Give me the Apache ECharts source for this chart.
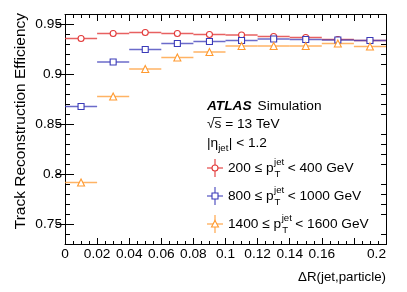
<!DOCTYPE html>
<html>
<head>
<meta charset="utf-8">
<script src="https://cdn.jsdelivr.net/npm/echarts@6/dist/echarts.min.js"></script>
<style>
html,body{margin:0;padding:0;background:#fff;}
#chart{width:407px;height:292px;}
</style>
</head>
<body>
<div id="chart"></div>
<script>
// ---- data ----
const binEdges = [0, 0.02, 0.04, 0.06, 0.08, 0.1, 0.12, 0.14, 0.16, 0.18, 0.2];
const effPt200_400   = [0.936, 0.941, 0.942, 0.941, 0.940, 0.9395, 0.938, 0.937, 0.935, 0.934];
const effPt800_1000  = [0.868, 0.9125, 0.925, 0.931, 0.933, 0.934, 0.9355, 0.935, 0.9345, 0.934];
const effPt1400_1600 = [0.792, 0.878, 0.9055, 0.917, 0.9225, 0.9285, 0.9285, 0.9285, 0.931, 0.928];
const yMajorTicks = [0.75, 0.8, 0.85, 0.9, 0.95];
const yMinorTicks = [0.73, 0.74, 0.76, 0.77, 0.78, 0.79, 0.81, 0.82, 0.83, 0.84, 0.86, 0.87, 0.88, 0.89, 0.91, 0.92, 0.93, 0.94, 0.96];
const legendPre = ['200 \u2264 p', '800 \u2264 p', '1400 \u2264 p'];
const legendPost = ['< 400 GeV', '< 1000 GeV', '< 1600 GeV'];

const FONT = '"Liberation Sans", Arial, Helvetica, sans-serif';
const FS = 13.7;
const SFS = 9.6;
const colors = ['#e23a3a', '#3a3ab8', '#ff9a30'];
const lineColors = ['rgba(226,58,58,0.8)', 'rgba(58,58,184,0.75)', 'rgba(255,154,48,0.75)'];
const symbols = ['circle', 'rect', 'triangle'];
const symSizes = [6, 6, 7];
const allSeries = [effPt200_400, effPt800_1000, effPt1400_1600];

const ctx = document.createElement('canvas').getContext('2d');
function tw(t, size, weight, style) {
  ctx.font = (style || 'normal') + ' ' + (weight || 'normal') + ' ' + size + 'px ' + FONT;
  return ctx.measureText(t).width;
}

const series = [];
allSeries.forEach((vals, k) => {
  series.push({
    type: 'custom',
    xAxisIndex: 0, yAxisIndex: 0,
    silent: true, z: 2,
    data: vals.map((v, i) => [binEdges[i], binEdges[i + 1], v]),
    encode: {x: [0, 1], y: 2},
    renderItem: (params, api) => {
      const y = api.value(2);
      const p0 = api.coord([api.value(0), y]);
      const p1 = api.coord([api.value(1), y]);
      return {type: 'line', shape: {x1: p0[0], y1: p0[1], x2: p1[0], y2: p1[1]},
        style: {stroke: lineColors[k], lineWidth: 1.6}};
    }
  });
  series.push({
    type: 'scatter',
    xAxisIndex: 0, yAxisIndex: 0, z: 3, silent: true,
    symbol: symbols[k], symbolSize: symSizes[k],
    itemStyle: {color: '#fff', borderColor: colors[k], borderWidth: 1.1, opacity: 1},
    data: vals.map((v, i) => [(binEdges[i] + binEdges[i + 1]) / 2, v])
  });
});

// ---- graphic texts / legend ----
const graphic = [];
const X0 = 207;
// y-axis title
graphic.push({type: 'text', x: 21, y: 13, rotation: Math.PI / 2,
  style: {text: 'Track Reconstruction Efficiency', font: '15.5px ' + FONT, fill: '#000', align: 'right', verticalAlign: 'middle'}});
// x-axis title
graphic.push({type: 'text', x: 386, y: 277,
  style: {text: '\u0394R(jet,particle)', font: '13.3px ' + FONT, fill: '#000', align: 'right', verticalAlign: 'middle'}});
// ATLAS Simulation
graphic.push({type: 'text', x: X0, y: 106,
  style: {text: 'ATLAS', font: 'italic bold ' + FS + 'px ' + FONT, fill: '#000', align: 'left', verticalAlign: 'middle'}});
const wAtlas = tw('ATLAS', FS, 'bold', 'italic');
graphic.push({type: 'text', x: X0 + wAtlas + 6, y: 106,
  style: {text: 'Simulation', font: FS + 'px ' + FONT, fill: '#000', align: 'left', verticalAlign: 'middle'}});
// sqrt s
graphic.push({type: 'text', x: X0, y: 124,
  style: {text: '\u221As = 13 TeV', font: FS + 'px ' + FONT, fill: '#000', align: 'left', verticalAlign: 'middle'}});
const wSq = tw('\u221A', FS);
const wS = tw('s', FS);
graphic.push({type: 'line', shape: {x1: X0 + wSq - 1, y1: 117.5, x2: X0 + wSq + wS, y2: 117.5}, style: {stroke: '#000', lineWidth: 0.8}});
// |eta_jet| < 1.2
const yEta = 143;
graphic.push({type: 'text', x: X0, y: yEta,
  style: {text: '|\u03B7', font: FS + 'px ' + FONT, fill: '#000', align: 'left', verticalAlign: 'middle'}});
const wEta = tw('|\u03B7', FS);
graphic.push({type: 'text', x: X0 + wEta, y: yEta + 5,
  style: {text: 'jet', font: SFS + 'px ' + FONT, fill: '#000', align: 'left', verticalAlign: 'middle'}});
const wJet = tw('jet', SFS);
graphic.push({type: 'text', x: X0 + wEta + wJet + 0.5, y: yEta,
  style: {text: '| < 1.2', font: FS + 'px ' + FONT, fill: '#000', align: 'left', verticalAlign: 'middle'}});

// legend rows
const rowY = [168, 196, 224];
const mX = 215;
legendPre.forEach((pre, k) => {
  const y = rowY[k];
  graphic.push({type: 'line', shape: {x1: mX - 8, y1: y, x2: mX + 8, y2: y}, style: {stroke: lineColors[k], lineWidth: 1.4}});
  graphic.push({type: 'line', shape: {x1: mX, y1: y - 9, x2: mX, y2: y + 9}, style: {stroke: lineColors[k], lineWidth: 1.4}});
  const mstyle = {fill: '#fff', stroke: colors[k], lineWidth: 1.1};
  if (k === 0) graphic.push({type: 'circle', shape: {cx: mX, cy: y, r: 3}, style: mstyle});
  else if (k === 1) graphic.push({type: 'rect', shape: {x: mX - 3, y: y - 3, width: 6, height: 6}, style: mstyle});
  else graphic.push({type: 'polygon', shape: {points: [[mX, y - 3.5], [mX + 3.5, y + 3], [mX - 3.5, y + 3]]}, style: mstyle});
  const tx = 228;
  graphic.push({type: 'text', x: tx, y: y,
    style: {text: pre, font: FS + 'px ' + FONT, fill: '#000', align: 'left', verticalAlign: 'middle'}});
  const w1 = tw(pre, FS);
  graphic.push({type: 'text', x: tx + w1 + 0.5, y: y - 6,
    style: {text: 'jet', font: SFS + 'px ' + FONT, fill: '#000', align: 'left', verticalAlign: 'middle'}});
  graphic.push({type: 'text', x: tx + w1 + 1, y: y + 6,
    style: {text: 'T', font: SFS + 'px ' + FONT, fill: '#000', align: 'left', verticalAlign: 'middle'}});
  const w2 = Math.max(tw('jet', SFS), tw('T', SFS) + 0.5);
  graphic.push({type: 'text', x: tx + w1 + w2 + 4, y: y,
    style: {text: legendPost[k], font: FS + 'px ' + FONT, fill: '#000', align: 'left', verticalAlign: 'middle'}});
});

// ---- axes ----
const axisLineStyle = {show: true, lineStyle: {color: '#000', width: 1}};
function xAx(pos, labels) {
  return {
    type: 'value', position: pos, min: 0, max: 0.2, interval: 0.02,
    axisLine: axisLineStyle,
    axisTick: {show: true, inside: true, length: 6.5, lineStyle: {color: '#000', width: 1}},
    minorTick: {show: true, splitNumber: 4, length: 3.5, lineStyle: {color: '#000', width: 1}},
    splitLine: {show: false}, minorSplitLine: {show: false},
    axisLabel: labels ? {show: true, showMinLabel: true, showMaxLabel: true, hideOverlap: false,
      fontSize: FS, fontFamily: FONT, color: '#000', margin: 3, alignMaxLabel: 'right'} : {show: false}
  };
}
function yAx(pos, ticks, len, labels) {
  return {
    type: 'value', position: pos, min: 0.73, max: 0.96,
    axisLine: axisLineStyle,
    axisTick: {show: true, inside: true, length: len, customValues: ticks, lineStyle: {color: '#000', width: 1}},
    splitLine: {show: false},
    axisLabel: labels ? {show: true, customValues: ticks, fontSize: FS, fontFamily: FONT, color: '#000', margin: 3} : {show: false}
  };
}

const option = {
  backgroundColor: '#fff',
  animation: false,
  textStyle: {fontFamily: FONT},
  grid: {left: 65, right: 21, top: 14.5, bottom: 47.5, containLabel: false, show: false},
  xAxis: [xAx('bottom', true), xAx('top', false)],
  yAxis: [
    yAx('left', yMajorTicks, 9, true),
    yAx('right', yMajorTicks, 9, false),
    yAx('left', yMinorTicks, 5, false),
    yAx('right', yMinorTicks, 5, false)
  ],
  series: series,
  graphic: {elements: graphic}
};

const chart = echarts.init(document.getElementById('chart'), null, {renderer: 'canvas'});
chart.setOption(option);
</script>
</body>
</html>
